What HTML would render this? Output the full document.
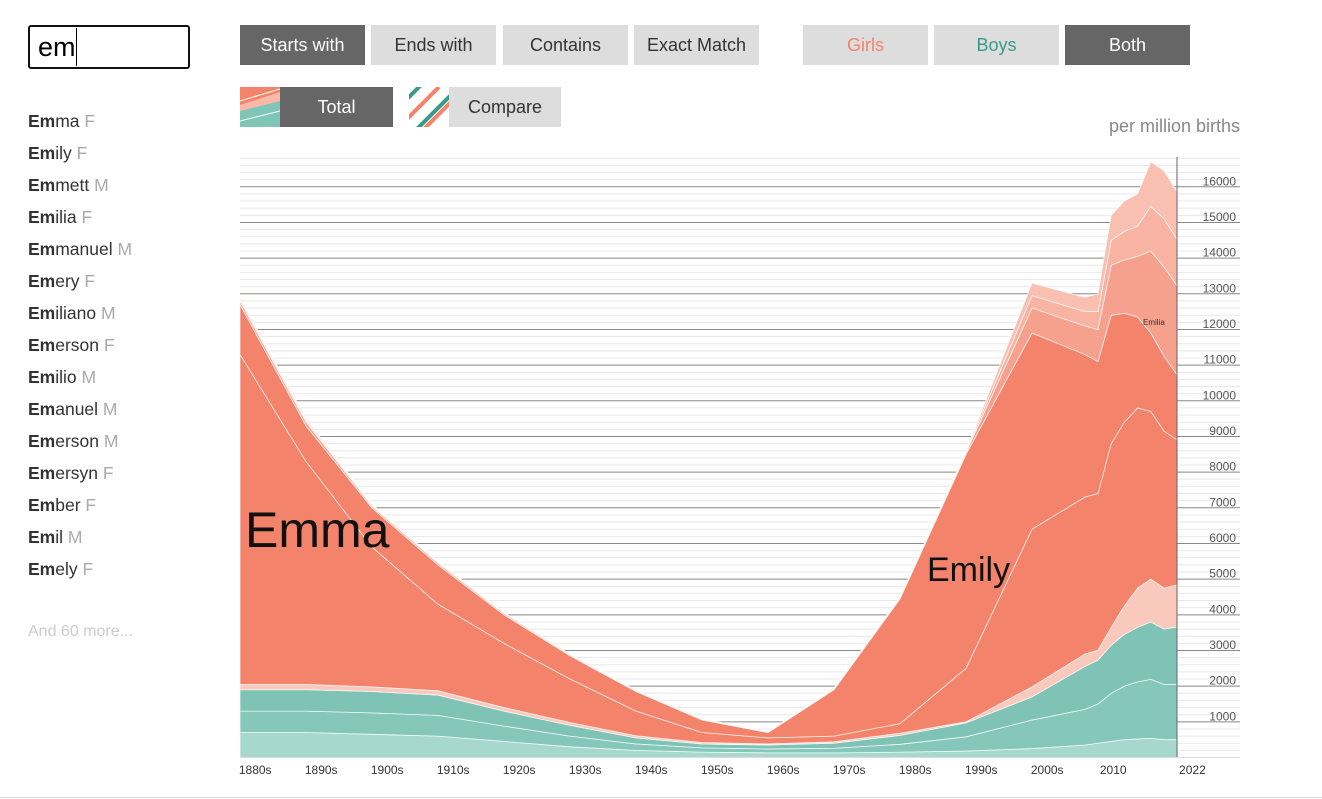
<!DOCTYPE html>
<html><head><meta charset="utf-8">
<style>
body{margin:0;width:1322px;height:799px;background:#fff;font-family:"Liberation Sans",sans-serif;position:relative;overflow:hidden}
.btn{position:absolute;height:40px;line-height:40px;text-align:center;font-size:18px;background:#ddd;color:#333}
.dark{background:#666;color:#fff}
.nm{position:absolute;left:28px;font-size:17.5px;color:#333}
.nm span{color:#aaa}
</style></head><body>
<div style="position:absolute;left:28px;top:25px;width:150px;height:40px;border:2px solid #111;border-radius:3px;font-size:27px;line-height:40px;padding-left:8px;box-sizing:content-box;">em<span style="display:inline-block;width:1px;height:38px;background:#000;vertical-align:top;margin-top:1px"></span></div>
<div class="btn dark" style="left:240px;top:25px;width:125px">Starts with</div>
<div class="btn" style="left:371px;top:25px;width:125px">Ends with</div>
<div class="btn" style="left:503px;top:25px;width:125px">Contains</div>
<div class="btn" style="left:634px;top:25px;width:125px">Exact Match</div>
<div class="btn" style="left:803px;top:25px;width:125px;color:#f4836b">Girls</div>
<div class="btn" style="left:934px;top:25px;width:125px;color:#3a9a8a">Boys</div>
<div class="btn dark" style="left:1065px;top:25px;width:125px">Both</div>
<div style="position:absolute;left:240px;top:87px;width:153px;height:40px">
<svg width="40" height="40" style="position:absolute;left:0;top:0"><rect width="40" height="40" fill="#f4836b"/><path d="M0 18 L40 5 L40 40 L0 40Z" fill="#f9b8a8"/><path d="M0 24 L40 14 L40 40 L0 40Z" fill="#7fc6b9"/><path d="M0 34 L40 24" stroke="#fff" stroke-width="1"/><path d="M0 14 L40 2" stroke="#fff" stroke-width="1"/></svg>
<div class="btn dark" style="left:40px;top:0;width:113px">Total</div></div>
<div style="position:absolute;left:409px;top:87px;width:152px;height:40px">
<svg width="40" height="40" style="position:absolute;left:0;top:0"><g stroke-width="4"><path d="M-5 35 L30 0" stroke="#f4836b"/><path d="M5 45 L45 5" stroke="#3a9a8a"/><path d="M-10 30 L20 0" stroke="#fff"/><path d="M2 40 L42 0" stroke="#fff"/><path d="M12 45 L50 7" stroke="#f4836b"/><path d="M-12 22 L12 -2" stroke="#3a9a8a"/></g></svg>
<div class="btn" style="left:40px;top:0;width:112px">Compare</div></div>

<div class="nm" style="top:111px"><b>Em</b>ma <span>F</span></div>
<div class="nm" style="top:143px"><b>Em</b>ily <span>F</span></div>
<div class="nm" style="top:175px"><b>Em</b>mett <span>M</span></div>
<div class="nm" style="top:207px"><b>Em</b>ilia <span>F</span></div>
<div class="nm" style="top:239px"><b>Em</b>manuel <span>M</span></div>
<div class="nm" style="top:271px"><b>Em</b>ery <span>F</span></div>
<div class="nm" style="top:303px"><b>Em</b>iliano <span>M</span></div>
<div class="nm" style="top:335px"><b>Em</b>erson <span>F</span></div>
<div class="nm" style="top:367px"><b>Em</b>ilio <span>M</span></div>
<div class="nm" style="top:399px"><b>Em</b>anuel <span>M</span></div>
<div class="nm" style="top:431px"><b>Em</b>erson <span>M</span></div>
<div class="nm" style="top:463px"><b>Em</b>ersyn <span>F</span></div>
<div class="nm" style="top:495px"><b>Em</b>ber <span>F</span></div>
<div class="nm" style="top:527px"><b>Em</b>il <span>M</span></div>
<div class="nm" style="top:559px"><b>Em</b>ely <span>F</span></div>
<div class="nm" style="top:623px;color:#ccc;font-size:16px">And 60 more...</div>
<div style="position:absolute;right:82px;top:116px;font-size:18px;color:#888">per million births</div>
<div style="position:absolute;left:0;top:797px;width:1322px;height:1px;background:#ddd"></div>

<svg id="chart" width="1322" height="799" style="position:absolute;left:0;top:0"></svg>
<script>
const years=[1880,1890,1900,1910,1920,1930,1940,1950,1960,1970,1980,1990,2000,2008,2010,2012,2014,2016,2018,2020,2022];
const boysA=[700,700,650,600,450,300,200,150,130,130,150,180,250,350,400,450,500,520,540,500,500];
const boysB=[600,600,600,580,430,300,180,120,110,130,220,400,800,1000,1100,1350,1500,1600,1650,1550,1550];
const boysC=[600,600,600,570,420,300,170,110,110,140,250,390,650,1200,1230,1350,1450,1530,1610,1550,1610];
const girlsSmall=[150,150,130,120,100,80,60,40,30,40,60,30,280,350,280,500,800,1100,1200,1150,1180];
const emma=[9250,6250,3920,2430,1800,1220,690,280,170,160,270,1500,4420,4400,4390,5150,5150,5050,4700,4400,4060];
const emily=[1400,1000,1100,1100,800,650,550,350,150,1300,3500,6000,5500,4000,3700,3600,3050,2550,2200,2100,1820];
const girlsO1=[100,100,50,50,40,30,20,20,10,20,20,50,700,800,900,1400,1500,1700,2300,2500,2500];
const girlsO2=[50,50,30,30,20,10,10,10,5,15,15,25,350,400,500,700,800,850,1250,1350,1300];
const girlsO3=[50,50,20,20,10,10,10,10,5,15,15,25,350,400,500,700,850,900,1250,1350,1330];
const yTicks=[1000,2000,3000,4000,5000,6000,7000,8000,9000,10000,11000,12000,13000,14000,15000,16000];
const xLabels=["1880s","1890s","1900s","1910s","1920s","1930s","1940s","1950s","1960s","1970s","1980s","1990s","2000s","2010","2022"];
const xLabelYears=[1882,1892,1902,1912,1922,1932,1942,1952,1962,1972,1982,1992,2002,2012,2024];
const NS="http://www.w3.org/2000/svg";
const svg=document.getElementById('chart');
const X=y=>240+(y-1880)*6.6;
const Y=v=>757.5-v*0.03567;
function mk(t,a){const e=document.createElementNS(NS,t);for(const k in a)e.setAttribute(k,a[k]);svg.appendChild(e);return e;}
for(let v=200;v<=16800;v+=200){const l=mk('line',{x1:240,x2:1240,y1:Y(v),y2:Y(v),stroke:v%1000===0?'#888':'#e8e8e8','stroke-width':1});

}
const layers=[[boysA,'#a6d8ce','boys-layer-a'],[boysB,'#85c7bb','boys-layer-b'],[boysC,'#7fc3b6','boys-layer-c'],[girlsSmall,'#f9c9bd','girls-small-layer'],[emma,'#f4836b','emma-layer'],[emily,'#f4836b','emily-layer'],[girlsO1,'#f6a18e','girls-other-layer-1'],[girlsO2,'#f8b3a3','girls-other-layer-2'],[girlsO3,'#f9c0b2','girls-other-layer-3']];
let base=years.map(()=>0);
layers.forEach(([vals,col,name])=>{
  const top=base.map((b,i)=>b+vals[i]);
  let d='M'+years.map((y,i)=>X(y)+' '+Y(top[i])).join(' L');
  for(let i=years.length-1;i>=0;i--)d+=' L'+X(years[i])+' '+Y(base[i]);
  const p=mk('path',{d:d+'Z',fill:col,stroke:'#fff','stroke-width':0.8,'stroke-opacity':0.8});
  
  
  base=top;
});
const ax=mk('line',{x1:1177,x2:1177,y1:157,y2:757,stroke:'#666'});


const bx=mk('line',{x1:240,x2:1240,y1:757.5,y2:757.5,stroke:'#ddd'});


yTicks.forEach(v=>{const t=mk('text',{x:1236,y:Y(v)-1.5,'text-anchor':'end','font-size':12,fill:'#555'});t.textContent=v;

});
xLabels.forEach((s,i)=>{const t=mk('text',{x:X(xLabelYears[i])+2,y:774,'text-anchor':'middle','font-size':12,fill:'#333'});t.textContent=s;

});
const l1=mk('text',{x:245,y:547,'font-size':50,fill:'#111'});l1.textContent='Emma';


const l2=mk('text',{x:927,y:581,'font-size':34,fill:'#111'});l2.textContent='Emily';


const l3=mk('text',{x:1143,y:325,'font-size':8,fill:'#333'});l3.textContent='Emilia';


</script>
</body></html>
